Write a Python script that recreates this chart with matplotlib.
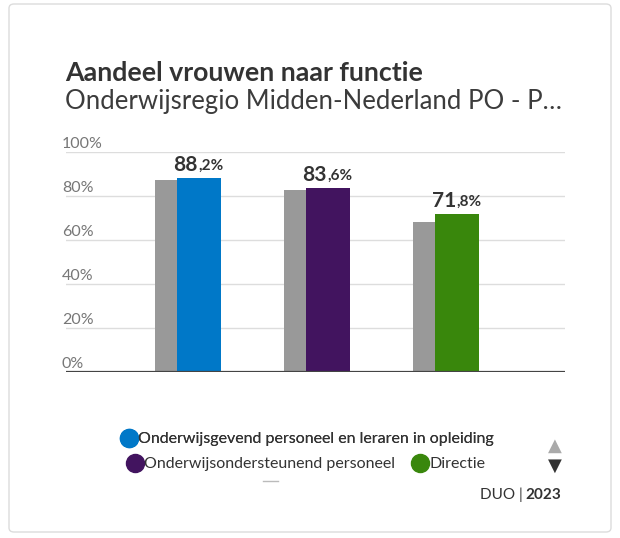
import matplotlib
matplotlib.use("Agg")
import matplotlib.pyplot as plt
from matplotlib.patches import FancyBboxPatch
from matplotlib.transforms import blended_transform_factory
from matplotlib.lines import Line2D
import numpy as np

plt.rcParams['font.family'] = ['Lato', 'DejaVu Sans']

# data
functies = ["Onderwijsgevend personeel en leraren in opleiding",
            "Onderwijsondersteunend personeel",
            "Directie"]
regio = [88.2, 83.6, 71.8]
landelijk = [87.3, 82.7, 68.2]   # grey reference bars
kleuren = ["#0078c8", "#42145f", "#39870c"]
yticks = [0, 20, 40, 60, 80, 100]

W, H = 620, 538
fig = plt.figure(figsize=(W / 100, H / 100), dpi=100)
fig.patch.set_facecolor("white")

# card
card = FancyBboxPatch((9 / W, 6 / H), 602 / W, 528 / H,
                      boxstyle="round,pad=0,rounding_size=0.008",
                      transform=fig.transFigure, facecolor="white",
                      edgecolor="#dcdcdc", linewidth=1.0, zorder=-5)
fig.patches.append(card)

ax = fig.add_axes([66 / W, 1 - 372 / H, (565 - 66) / W, (372 - 152) / H])
ax.set_facecolor("none")
x = np.arange(len(functies))
wc, wg = 0.341, 0.17
ax.bar(x - wc / 2 - wg / 2, landelijk, width=wg, color="#999999", zorder=2)
bars = ax.bar(x, regio, width=wc, color=kleuren, zorder=3)

ax.set_xlim(-1.03, 2.84)
ax.set_ylim(0, 100)
for s in ax.spines.values():
    s.set_visible(False)
ax.set_xticks([])
ax.set_yticks([])

trans = blended_transform_factory(ax.transAxes, ax.transData)
for t in yticks:
    if t == 0:
        ax.axhline(0, color="#444444", linewidth=1.6, zorder=4)
    else:
        ax.axhline(t, color="#dddddd", linewidth=1.0, zorder=1)
    ax.annotate(f"{t}%", xy=(0, t), xycoords=trans, xytext=(-3, 1),
                textcoords="offset points", ha="left", va="bottom",
                fontsize=11.5, color="#777777", zorder=5)

# value labels: big integer part, small decimal part
for xi, v in zip(x, regio):
    whole, dec = f"{v:.1f}".split(".")
    t1 = ax.annotate(whole, xy=(xi, v), xytext=(-0.5, 2), textcoords="offset points",
                     ha="right", va="bottom", fontsize=15, fontweight="bold",
                     color="#333333", zorder=6)
    ax.annotate(f",{dec}%", xy=(1, 0.12), xycoords=t1, ha="left", va="bottom",
                fontsize=11, fontweight="bold", color="#333333", zorder=6)

# titles
fig.text(65 / W, 1 - 73 / H, "Aandeel vrouwen naar functie", fontsize=19.3,
         fontweight="bold", color="#333333", va="center", ha="left")
fig.text(65 / W, 1 - 101 / H, "Onderwijsregio Midden-Nederland PO - P…",
         fontsize=18.5, color="#3c3c3c", va="center", ha="left")

# legend
kw = dict(frameon=False, fontsize=11.5, handlelength=0.8, handletextpad=0.15,
          columnspacing=1.2, labelcolor="#333333", borderaxespad=0, borderpad=0)
handles = [Line2D([], [], marker="o", linestyle="none", markersize=13,
                  markerfacecolor=c, markeredgecolor=c) for c in kleuren]
leg1 = fig.legend(handles[:1], functies[:1], loc="center",
                  bbox_to_anchor=(308 / W, 1 - 439 / H), ncol=1, **kw)
fig.legend(handles[1:], functies[1:], loc="center",
           bbox_to_anchor=(307 / W, 1 - 464 / H), ncol=2, **kw)
fig.add_artist(leg1)

fig.lines.append(Line2D([263 / W, 278 / W], [1 - 481 / H, 1 - 481 / H],
                        transform=fig.transFigure, color="#bbbbbb", linewidth=1))
fig.text(555 / W, 1 - 446 / H, "▲", fontsize=13, color="#aaaaaa", ha="center",
         va="center", family="DejaVu Sans")
fig.text(555 / W, 1 - 466 / H, "▼", fontsize=13, color="#333333", ha="center",
         va="center", family="DejaVu Sans")

fig.text(561 / W, 1 - 495 / H, "2023", fontsize=11, fontweight="bold",
         color="#333333", ha="right", va="center")
fig.text(527 / W, 1 - 495 / H, "DUO | ", fontsize=11, color="#333333",
         ha="right", va="center")

fig.savefig("out.png", dpi=100)
